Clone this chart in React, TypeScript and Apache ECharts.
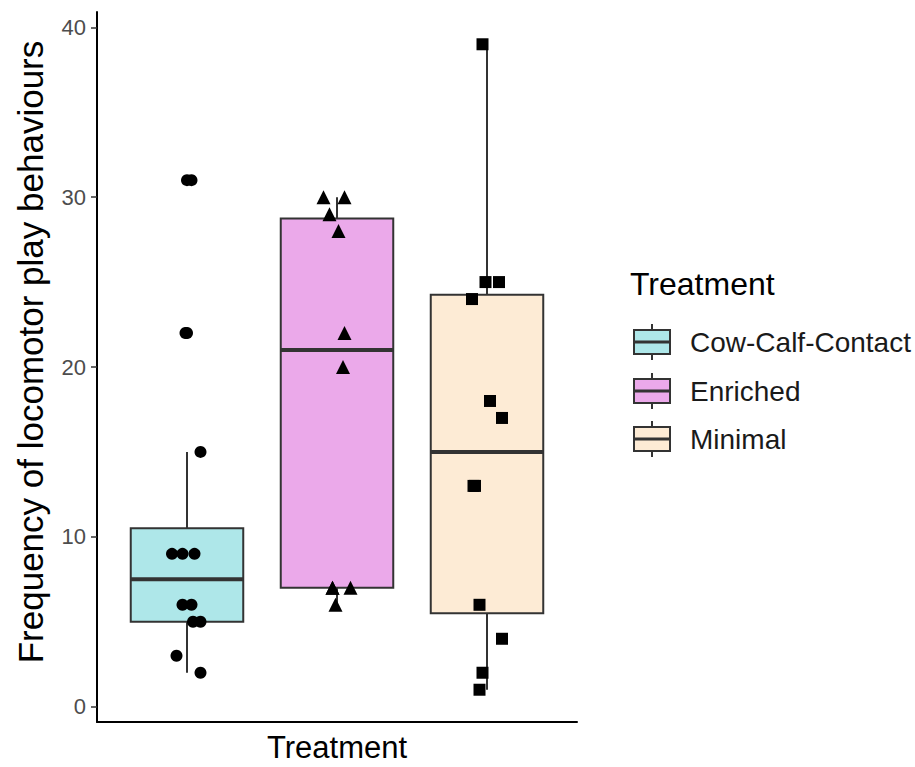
import React, { useEffect, useRef } from "react";
import * as echarts from "echarts";

const categories = ["Cow-Calf-Contact", "Enriched", "Minimal"];
const boxColors = ["#AEE7E9", "#EBA9EA", "#FDEBD5"];
const yTicks = [0, 10, 20, 30, 40];

const cowCalfValues = [31, 22, 15, 9, 9, 9, 6, 6, 5, 5, 3, 2];
const cowCalfJitter = [0.03, -0.01, 0.09, -0.1, -0.03, 0.05, -0.03, 0.03, 0.04, 0.09, -0.07, 0.09];

const enrichedValues = [30, 30, 29, 28, 22, 20, 7, 7, 7, 6];
const enrichedJitter = [-0.09, 0.05, -0.05, 0.01, 0.05, 0.04, -0.03, 0.09, -0.03, -0.01];

const minimalValues = [39, 25, 25, 24, 18, 17, 13, 13, 6, 4, 2, 1];
const minimalJitter = [-0.03, -0.01, 0.08, -0.1, 0.02, 0.1, -0.09, -0.08, -0.05, 0.1, -0.03, -0.05];

const groups = [
  { values: cowCalfValues, jitter: cowCalfJitter, symbol: "circle", size: 12 },
  { values: enrichedValues, jitter: enrichedJitter, symbol: "triangle", size: 14 },
  { values: minimalValues, jitter: minimalJitter, symbol: "rect", size: 12 },
];

function quantile(sorted: number[], p: number) {
  const pos = (sorted.length - 1) * p;
  const lo = Math.floor(pos);
  const hi = Math.ceil(pos);
  return sorted[lo] + (sorted[hi] - sorted[lo]) * (pos - lo);
}

function boxStats(values: number[]) {
  const s = [...values].sort((a, b) => a - b);
  const q1 = quantile(s, 0.25);
  const med = quantile(s, 0.5);
  const q3 = quantile(s, 0.75);
  const iqr = q3 - q1;
  const lf = q1 - 1.5 * iqr;
  const uf = q3 + 1.5 * iqr;
  const inside = s.filter((v) => v >= lf && v <= uf);
  return {
    lw: inside[0],
    q1,
    med,
    q3,
    uw: inside[inside.length - 1],
    outliers: s.filter((v) => v < lf || v > uf),
  };
}

export default function App() {
  const ref = useRef<HTMLDivElement>(null);
  useEffect(() => {
    if (!ref.current) return;
    const chart = echarts.init(ref.current, null, { renderer: "svg" });
    const stats = groups.map((g) => boxStats(g.values));
    const boxData = stats.map((s, i) => [i + 1, s.lw, s.q1, s.med, s.q3, s.uw, i]);
    const outlierData: number[][] = [];
    stats.forEach((s, i) => s.outliers.forEach((v) => outlierData.push([i + 1, v])));

    const lineStyle = { stroke: "#333333", lineWidth: 2 };

    const graphics: any[] = [
      {
        type: "text",
        x: 30,
        y: 352,
        rotation: Math.PI / 2,
        style: {
          text: "Frequency of locomotor play behaviours",
          fontSize: 35,
          fontFamily: "Liberation Sans",
          fill: "#000",
          align: "center",
          verticalAlign: "middle",
        },
      },
      {
        type: "text",
        left: 630,
        top: 268,
        style: { text: "Treatment", fontSize: 32, fontFamily: "Liberation Sans", fill: "#000" },
      },
    ];
    const rowY = [342, 391, 439];
    categories.forEach((c, i) => {
      const cy = rowY[i];
      graphics.push(
        { type: "line", shape: { x1: 652, y1: cy - 18, x2: 652, y2: cy + 18 }, style: lineStyle },
        { type: "rect", shape: { x: 634, y: cy - 12, width: 36, height: 24 }, style: { fill: boxColors[i], stroke: "#333333", lineWidth: 2 } },
        { type: "line", shape: { x1: 634, y1: cy, x2: 670, y2: cy }, style: { stroke: "#333333", lineWidth: 3 } },
        {
          type: "text",
          x: 690,
          y: cy,
          style: { text: c, fontSize: 28, fontFamily: "Liberation Sans", fill: "#1A1A1A", verticalAlign: "middle" },
        }
      );
    });

    chart.setOption({
      animation: false,
      backgroundColor: "#FFFFFF",
      grid: { left: 97, top: 12, width: 480, height: 710, containLabel: false, outerBoundsMode: "none" },
      xAxis: {
        type: "value",
        min: 0.4,
        max: 3.6,
        name: "Treatment",
        nameLocation: "middle",
        nameGap: 10,
        nameTextStyle: { fontSize: 31, fontFamily: "Liberation Sans", color: "#000", verticalAlign: "top" },
        axisLine: { show: true, onZero: false, lineStyle: { color: "#000", width: 2 } },
        axisTick: { show: false },
        axisLabel: { show: false },
        splitLine: { show: false },
      },
      yAxis: {
        type: "value",
        min: -0.9,
        max: 40.9,
        axisLine: { show: true, onZero: false, lineStyle: { color: "#000", width: 2 } },
        axisTick: { show: true, length: 6, customValues: yTicks, lineStyle: { color: "#333", width: 1.5 } },
        axisLabel: {
          customValues: yTicks,
          fontSize: 22,
          fontFamily: "Liberation Sans",
          color: "#4D4D4D",
          margin: 11,
        },
        splitLine: { show: false },
      },
      graphic: graphics,
      series: [
        {
          type: "custom",
          z: 1,
          encode: { x: 0, y: [1, 2, 3, 4, 5] },
          data: boxData,
          renderItem: (params: any, api: any) => {
            const x = api.value(0);
            const idx = api.value(6);
            const cx = api.coord([x, api.value(1)])[0];
            const yLo = api.coord([x, api.value(1)])[1];
            const yQ1 = api.coord([x, api.value(2)])[1];
            const yMed = api.coord([x, api.value(3)])[1];
            const yQ3 = api.coord([x, api.value(4)])[1];
            const yHi = api.coord([x, api.value(5)])[1];
            const half = api.size([0.375, 0])[0];
            return {
              type: "group",
              children: [
                { type: "line", shape: { x1: cx, y1: yLo, x2: cx, y2: yQ1 }, style: lineStyle },
                { type: "line", shape: { x1: cx, y1: yQ3, x2: cx, y2: yHi }, style: lineStyle },
                {
                  type: "rect",
                  shape: { x: cx - half, y: yQ3, width: 2 * half, height: yQ1 - yQ3 },
                  style: { fill: boxColors[idx], stroke: "#333333", lineWidth: 2 },
                },
                { type: "line", shape: { x1: cx - half, y1: yMed, x2: cx + half, y2: yMed }, style: { stroke: "#333333", lineWidth: 4 } },
              ],
            };
          },
        },
        {
          type: "scatter",
          z: 3,
          symbol: "circle",
          symbolSize: 12,
          itemStyle: { color: "#000", opacity: 1 },
          data: outlierData,
        },
        ...groups.map((g, i) => ({
          type: "scatter",
          name: categories[i],
          z: 3,
          symbol: g.symbol,
          symbolSize: g.size,
          itemStyle: { color: "#000", opacity: 1 },
          data: g.values.map((v, k) => [i + 1 + g.jitter[k], v]),
        })),
      ],
    });
    return () => chart.dispose();
  }, []);
  return (
    <div
      ref={ref}
      style={{ position: "absolute", left: 0, top: 0, width: 915, height: 767, background: "#fff" }}
    />
  );
}
